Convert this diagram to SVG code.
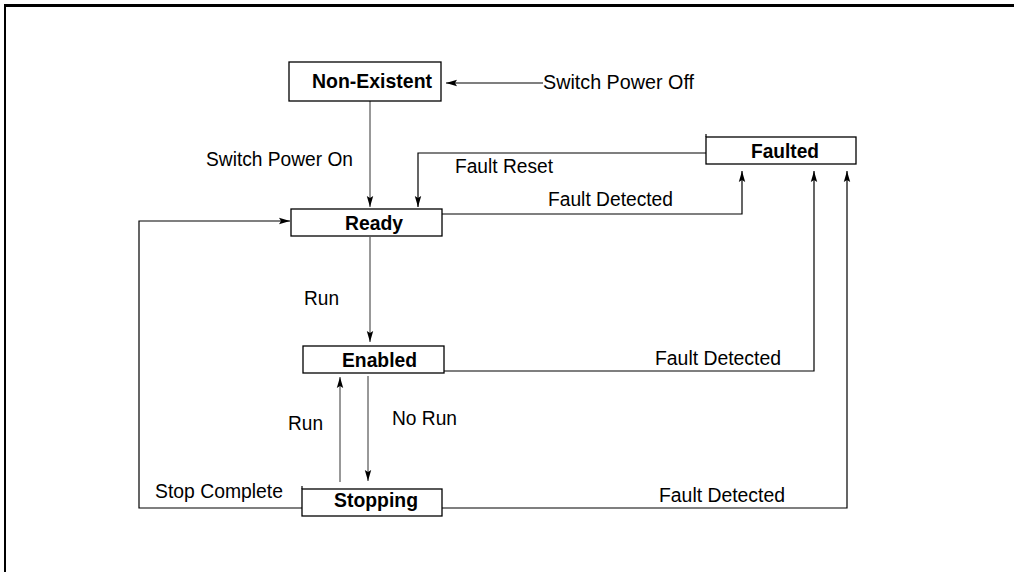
<svg xmlns="http://www.w3.org/2000/svg" width="1014" height="572" viewBox="0 0 1014 572">
<style>
.box{fill:#fff;stroke:#000;stroke-width:1.3}
.nt{font-family:"Liberation Sans",Arial,sans-serif;font-weight:bold;font-size:21px;fill:#000}
.lb{font-family:"Liberation Sans",Arial,sans-serif;font-size:20px;fill:#000}
.c{fill:none;stroke:#000;stroke-width:1.2}
.v{fill:none;stroke:#333;stroke-width:1}
</style>
<defs>
<marker id="ah" markerUnits="userSpaceOnUse" markerWidth="12" markerHeight="8" refX="11" refY="4" orient="auto">
<path d="M0,0.8 L11,4 L0,7.2 L2,4 z" fill="#000"/>
</marker>
</defs>
<rect x="0" y="0" width="1014" height="572" fill="#fff"/>
<rect x="4" y="4" width="1010" height="3" fill="#000"/>
<rect x="4" y="4" width="2" height="568" fill="#000"/>
<g id="connectors">
<path class="c" d="M543,83 H446" marker-end="url(#ah)"/>
<path class="v" d="M370,101 V207" marker-end="url(#ah)"/>
<path class="c" d="M706,153 H418 V207" marker-end="url(#ah)"/>
<path class="c" d="M442,214 H742 V171" marker-end="url(#ah)"/>
<path class="v" d="M370,237 V342" marker-end="url(#ah)"/>
<path class="c" d="M444,371 H814 V171" marker-end="url(#ah)"/>
<path class="v" d="M368,376 V481" marker-end="url(#ah)"/>
<path class="v" d="M340,482 V377" marker-end="url(#ah)"/>
<path class="c" d="M302,508 H139 V221 H290" marker-end="url(#ah)"/>
<path class="c" d="M442,508 H847 V171" marker-end="url(#ah)"/>
</g>
<g id="labels">
<text class="lb" x="543" y="89" textLength="151" lengthAdjust="spacingAndGlyphs">Switch Power Off</text>
<text class="lb" x="206" y="166" textLength="147" lengthAdjust="spacingAndGlyphs">Switch Power On</text>
<text class="lb" x="455" y="173" textLength="98" lengthAdjust="spacingAndGlyphs">Fault Reset</text>
<text class="lb" x="548" y="206" textLength="125" lengthAdjust="spacingAndGlyphs">Fault Detected</text>
<text class="lb" x="304" y="305" textLength="35" lengthAdjust="spacingAndGlyphs">Run</text>
<text class="lb" x="655" y="365" textLength="126" lengthAdjust="spacingAndGlyphs">Fault Detected</text>
<text class="lb" x="288" y="430" textLength="35" lengthAdjust="spacingAndGlyphs">Run</text>
<text class="lb" x="392" y="425" textLength="65" lengthAdjust="spacingAndGlyphs">No Run</text>
<text class="lb" x="155" y="498" textLength="128" lengthAdjust="spacingAndGlyphs">Stop Complete</text>
<text class="lb" x="659" y="502" textLength="126" lengthAdjust="spacingAndGlyphs">Fault Detected</text>
</g>
<g id="node-nonexistent">
<rect class="box" x="289" y="62" width="152" height="39"/>
<text class="nt" x="312" y="88" textLength="120" lengthAdjust="spacingAndGlyphs">Non-Existent</text>
</g>
<g id="node-ready">
<rect class="box" x="291" y="209" width="151" height="27"/>
<text class="nt" x="345" y="230" textLength="58" lengthAdjust="spacingAndGlyphs">Ready</text>
</g>
<g id="node-enabled">
<rect class="box" x="303" y="346" width="141" height="27"/>
<text class="nt" x="342" y="367" textLength="75" lengthAdjust="spacingAndGlyphs">Enabled</text>
</g>
<g id="node-stopping">
<rect class="box" x="302" y="489" width="140" height="27"/>
<path class="c" d="M302,489 V486"/>
<text class="nt" x="334" y="507" textLength="84" lengthAdjust="spacingAndGlyphs">Stopping</text>
</g>
<g id="node-faulted">
<rect class="box" x="706" y="137" width="150" height="27"/>
<path class="c" d="M706,137 V134"/>
<text class="nt" x="751" y="158" textLength="68" lengthAdjust="spacingAndGlyphs">Faulted</text>
</g>
</svg>
